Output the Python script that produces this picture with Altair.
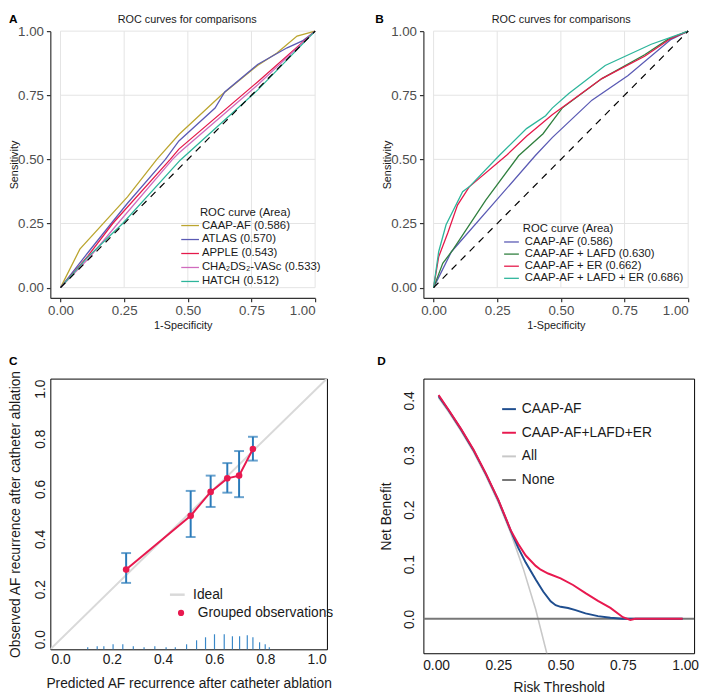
import altair as alt
import pandas as pd

FONT = "Liberation Sans"

# ---------------- text ----------------
panel_letters = ["A", "B", "C", "D"]
roc_title = "ROC curves for comparisons"
roc_legend_title = "ROC curve (Area)"
roc_ticks = [0.0, 0.25, 0.5, 0.75, 1.0]
diag_xy = [0.0, 1.0]

# ---------------- panel A ----------------
a_names = ["CAAP-AF (0.586)", "ATLAS (0.570)", "APPLE (0.543)", "CHA₂DS₂-VASc (0.533)", "HATCH (0.512)"]
a_colors = ["#BBA52F", "#5A5AB4", "#E5194A", "#D06BBE", "#2DB59B"]
a_caap_x = [0, 0.076, 0.263, 0.379, 0.465, 0.632, 0.774, 0.85, 0.929, 1.0]
a_caap_y = [0, 0.150, 0.354, 0.501, 0.597, 0.751, 0.866, 0.915, 0.981, 1.0]
a_atlas_x = [0, 0.108, 0.199, 0.263, 0.412, 0.465, 0.607, 0.645, 0.774, 0.89, 0.95, 1.0]
a_atlas_y = [0, 0.137, 0.250, 0.329, 0.500, 0.572, 0.700, 0.763, 0.870, 0.935, 0.962, 1.0]
a_apple_x = [0, 0.108, 0.205, 0.431, 0.465, 0.774, 1.0]
a_apple_y = [0, 0.124, 0.250, 0.500, 0.540, 0.802, 1.0]
a_cha_x = [0, 0.108, 0.225, 0.440, 0.465, 0.774, 1.0]
a_cha_y = [0, 0.111, 0.250, 0.500, 0.525, 0.790, 1.0]
a_hatch_x = [0, 0.108, 0.244, 0.470, 0.774, 1.0]
a_hatch_y = [0, 0.120, 0.250, 0.497, 0.770, 1.0]

# ---------------- panel B ----------------
b_names = ["CAAP-AF (0.586)", "CAAP-AF + LAFD (0.630)", "CAAP-AF + ER (0.662)", "CAAP-AF + LAFD + ER (0.686)"]
b_colors = ["#5A5AB4", "#2F7F3E", "#E5194A", "#2DB59B"]
b_caap_x = [0, 0.07, 0.399, 0.466, 0.622, 0.764, 0.933, 1.0]
b_caap_y = [0, 0.14, 0.514, 0.585, 0.731, 0.827, 0.968, 1.0]
b_lafd_x = [0, 0.036, 0.075, 0.205, 0.334, 0.43, 0.466, 0.505, 0.661, 0.829, 0.92, 1.0]
b_lafd_y = [0, 0.095, 0.146, 0.341, 0.514, 0.600, 0.648, 0.700, 0.815, 0.908, 0.968, 1.0]
b_er_x = [0, 0.02, 0.056, 0.094, 0.14, 0.289, 0.365, 0.466, 0.661, 0.829, 0.933, 1.0]
b_er_y = [0, 0.12, 0.214, 0.322, 0.393, 0.518, 0.590, 0.674, 0.815, 0.902, 0.972, 1.0]
b_both_x = [0, 0.02, 0.049, 0.114, 0.14, 0.257, 0.365, 0.44, 0.466, 0.531, 0.674, 0.855, 1.0]
b_both_y = [0, 0.14, 0.245, 0.374, 0.393, 0.514, 0.620, 0.670, 0.700, 0.757, 0.866, 0.949, 1.0]

# ---------------- panel C ----------------
c_x_title = "Predicted AF recurrence after catheter ablation"
c_y_title = "Observed AF recurrence after catheter ablation"
c_ticks = [0.0, 0.2, 0.4, 0.6, 0.8, 1.0]
c_labels = ["Ideal", "Grouped observations"]
ideal_xy = [-0.1, 1.1]
cal_x = [0.256, 0.508, 0.586, 0.651, 0.697, 0.751]
cal_y = [0.278, 0.493, 0.588, 0.642, 0.653, 0.759]
cal_lo = [0.225, 0.408, 0.528, 0.585, 0.567, 0.713]
cal_hi = [0.344, 0.592, 0.653, 0.703, 0.751, 0.808]
rug_x = [0.106, 0.143, 0.169, 0.205, 0.243, 0.284, 0.326, 0.368, 0.412, 0.448, 0.492,
         0.531, 0.566, 0.601, 0.639, 0.671, 0.699, 0.729, 0.751, 0.777, 0.799, 0.815]
rug_top = [-0.032, -0.028, -0.028, -0.020, -0.020, -0.028, -0.032, -0.028, -0.032, -0.032, -0.020,
           -0.004, 0.008, 0.020, 0.020, 0.012, 0.012, 0.016, 0.008, -0.012, -0.020, -0.032]

# ---------------- panel D ----------------
d_x_title = "Risk Threshold"
d_y_title = "Net Benefit"
d_yticks = [0.0, 0.1, 0.2, 0.3, 0.4]
d_names = ["CAAP-AF", "CAAP-AF+LAFD+ER", "All", "None"]
d_colors = ["#1F4E8F", "#E8194F", "#C8C8C8", "#777777"]
d_all_x = [0.01, 0.05, 0.10, 0.15, 0.20, 0.25, 0.30, 0.35, 0.40, 0.45]
d_all_y = [0.405, 0.379, 0.344, 0.306, 0.262, 0.213, 0.157, 0.092, 0.017, -0.073]
d_none_x = [-0.06, 1.04]
d_none_y = [0.0, 0.0]
d_caap_x = [0.01, 0.05, 0.10, 0.15, 0.20, 0.25, 0.30, 0.33, 0.36, 0.40, 0.43, 0.46, 0.48, 0.50,
            0.53, 0.56, 0.60, 0.65, 0.70, 0.75, 0.80, 0.90, 0.99]
d_caap_y = [0.408, 0.382, 0.347, 0.309, 0.265, 0.217, 0.161, 0.130, 0.103, 0.072, 0.050, 0.032,
            0.025, 0.022, 0.020, 0.016, 0.010, 0.005, 0.002, 0.000, 0.000, 0.000, 0.000]
d_comb_x = [0.01, 0.05, 0.10, 0.15, 0.20, 0.25, 0.30, 0.33, 0.36, 0.40, 0.42, 0.45, 0.50, 0.55,
            0.60, 0.65, 0.70, 0.75, 0.78, 0.80, 0.90, 0.99]
d_comb_y = [0.410, 0.383, 0.348, 0.310, 0.266, 0.218, 0.162, 0.137, 0.116, 0.097, 0.090, 0.083,
            0.074, 0.062, 0.047, 0.033, 0.020, 0.003, -0.002, 0.000, 0.000, 0.000]

RED = "#E8194F"
BLUE = "#2A7AB9"

# ---------------- helpers ----------------
def series_frame(names, xs, ys):
    rows = []
    for n, xv, yv in zip(names, xs, ys):
        for i, (a, b) in enumerate(zip(xv, yv)):
            rows.append({"x": a, "y": b, "s": n, "i": i})
    return pd.DataFrame(rows)


def text_layer(txt, x, y, size, weight="normal", align="left", baseline="top", color="#1A1A1A"):
    return alt.Chart(pd.DataFrame({"t": [txt]})).mark_text(
        align=align, baseline=baseline, fontSize=size, fontWeight=weight, font=FONT, color=color
    ).encode(x=alt.value(x), y=alt.value(y), text="t:N")


W_AB, H_AB = 269, 271
dom_roc = [-0.04, 1.0]


def roc_panel(letter, letter_x, title_x, df, names, colors, leg):
    ax_x = alt.Axis(values=roc_ticks, format=".2f", title="1-Specificity", grid=False,
                    domainColor="#333333", domainWidth=1.2, tickColor="#333333", tickWidth=1.2,
                    tickSize=4, labelPadding=2, labelFontSize=13.5, labelColor="#4D4D4D",
                    labelFont=FONT, titleFont=FONT, titleFontSize=11, titleFontWeight="normal",
                    titleColor="#1A1A1A", titleY=28, titleBaseline="middle", labelOverlap=False)
    ax_y = alt.Axis(values=roc_ticks, format=".2f", title="Sensitivity", grid=False,
                    domainColor="#333333", domainWidth=1.2, tickColor="#333333", tickWidth=1.2,
                    tickSize=4, labelPadding=3, labelFontSize=13.5, labelColor="#4D4D4D",
                    labelFont=FONT, titleFont=FONT, titleFontSize=11, titleFontWeight="normal",
                    titleColor="#1A1A1A", titleX=-36, titleBaseline="middle", labelOverlap=False)
    sx = alt.Scale(domain=dom_roc, nice=False, zero=False)
    sy = alt.Scale(domain=dom_roc, nice=False, zero=False)
    X = lambda: alt.X("x:Q", scale=sx, axis=ax_x)
    Y = lambda: alt.Y("y:Q", scale=sy, axis=ax_y)

    gv = pd.DataFrame({"x": roc_ticks, "y": roc_ticks[0], "y2": roc_ticks[-1]})
    gh = pd.DataFrame({"y": roc_ticks, "x": roc_ticks[0], "x2": roc_ticks[-1]})
    grid_v = alt.Chart(gv).mark_rule(color="#E3E3E3", strokeWidth=1).encode(x=X(), y=Y(), y2="y2:Q")
    grid_h = alt.Chart(gh).mark_rule(color="#E3E3E3", strokeWidth=1).encode(y=Y(), x=X(), x2="x2:Q")

    lines = alt.Chart(df).mark_line(strokeWidth=1.3).encode(
        x=X(), y=Y(), order="i:Q",
        color=alt.Color("s:N", scale=alt.Scale(domain=names, range=colors),
                        legend=alt.Legend(orient="none", legendX=leg["x"], legendY=leg["y"], title=None,
                                          symbolType="M-1,0H2", symbolSize=leg["size"],
                                          symbolStrokeWidth=1.3, labelFontSize=11.5, labelFont=FONT,
                                          labelColor="#1A1A1A", labelOffset=leg["off"],
                                          rowPadding=leg["pad"], padding=0, labelLimit=300)))
    diag = alt.Chart(pd.DataFrame({"x": diag_xy, "y": diag_xy})).mark_line(
        color="black", strokeDash=[7, 6], strokeWidth=1.2).encode(x=X(), y=Y())

    return alt.layer(
        grid_v, grid_h, lines, diag,
        text_layer(letter, letter_x, -17, 12, weight="bold", color="black"),
        text_layer(roc_title, title_x, -17, 11, align="center"),
        text_layer(roc_legend_title, leg["tx"], leg["ty"], 11.5, baseline="middle"),
    ).properties(width=W_AB, height=H_AB, view=alt.ViewBackground(strokeOpacity=0))


pA = roc_panel("A", -42, 139,
               series_frame(a_names, [a_caap_x, a_atlas_x, a_apple_x, a_cha_x, a_hatch_x],
                            [a_caap_y, a_atlas_y, a_apple_y, a_cha_y, a_hatch_y]),
               a_names, a_colors,
               {"x": 132, "y": 190.5, "size": 144, "off": 8, "pad": 1.2, "tx": 152, "ty": 185})
pB = roc_panel("B", -49, 140,
               series_frame(b_names, [b_caap_x, b_lafd_x, b_er_x, b_both_x],
                            [b_caap_y, b_lafd_y, b_er_y, b_both_y]),
               b_names, b_colors,
               {"x": 81, "y": 208.2, "size": 100, "off": 10, "pad": 0.3, "tx": 101, "ty": 200.7})

# ---------------- panel C ----------------
W_C, H_C = 281, 275
dom_c = [-0.04, 1.04]
cax_x = alt.Axis(values=c_ticks, format=".1f", title=c_x_title, grid=False, domain=False, ticks=False,
                 tickSize=0, labelPadding=3, labelFontSize=14, labelColor="#1A1A1A", labelFont=FONT,
                 titleFont=FONT, titleFontSize=14, titleFontWeight="normal", titleColor="#1A1A1A",
                 titleY=35, titleBaseline="middle", labelOverlap=False)
cax_y = alt.Axis(values=c_ticks, format=".1f", title=c_y_title, grid=False, domain=False, ticks=False,
                 tickSize=0, labelPadding=3, labelFontSize=14, labelColor="#1A1A1A", labelFont=FONT,
                 labelAngle=270, labelAlign="center", labelBaseline="bottom",
                 titleFont=FONT, titleFontSize=14, titleFontWeight="normal", titleColor="#1A1A1A",
                 titleX=-35, titleBaseline="middle", labelOverlap=False)
csx = alt.Scale(domain=dom_c, nice=False, zero=False)
csy = alt.Scale(domain=dom_c, nice=False, zero=False)
CX = lambda: alt.X("x:Q", scale=csx, axis=cax_x)
CY = lambda: alt.Y("y:Q", scale=csy, axis=cax_y)

ideal = alt.Chart(pd.DataFrame({"x": ideal_xy, "y": ideal_xy, "lab": c_labels[0]})).mark_line(
    strokeWidth=2, clip=True).encode(
    x=CX(), y=CY(),
    stroke=alt.Stroke("lab:N", scale=alt.Scale(domain=[c_labels[0]], range=["#D9D9D9"]),
                      legend=alt.Legend(orient="none", legendX=120, legendY=210.5, title=None,
                                        symbolType="stroke", symbolSize=225, symbolStrokeWidth=2.5,
                                        labelFontSize=14, labelFont=FONT, labelColor="#1A1A1A",
                                        labelOffset=7, padding=0)))
rug = alt.Chart(pd.DataFrame({"x": rug_x, "y": rug_top})).mark_rule(color="#3A88C8", strokeWidth=1.2).encode(
    x=CX(), y=CY(), y2=alt.value(H_C))
err = alt.Chart(pd.DataFrame({"x": cal_x, "y": cal_lo, "y2": cal_hi})).mark_rule(
    color=BLUE, strokeWidth=2).encode(x=CX(), y=CY(), y2="y2:Q")
caps = alt.Chart(pd.DataFrame({"x": cal_x + cal_x, "y": cal_lo + cal_hi})).mark_tick(
    orient="horizontal", size=10, thickness=2, color=BLUE).encode(x=CX(), y=CY())
cline = alt.Chart(pd.DataFrame({"x": cal_x, "y": cal_y})).mark_line(color=RED, strokeWidth=2).encode(
    x=CX(), y=CY())
cpts = alt.Chart(pd.DataFrame({"x": cal_x, "y": cal_y, "lab": c_labels[1]})).mark_circle(
    size=45, opacity=1).encode(
    x=CX(), y=CY(),
    fill=alt.Fill("lab:N", scale=alt.Scale(domain=[c_labels[1]], range=[RED]),
                  legend=alt.Legend(orient="none", legendX=125.8, legendY=231, title=None,
                                    symbolType="circle", symbolSize=40, symbolStrokeWidth=0,
                                    labelFontSize=14, labelFont=FONT, labelColor="#1A1A1A",
                                    labelOffset=10, padding=0)))
pC = alt.layer(ideal, rug, err, caps, cline, cpts,
               text_layer(panel_letters[2], -42, -23, 12, weight="bold", color="black")).properties(
    width=W_C, height=H_C, view=alt.ViewBackground(stroke="black", strokeWidth=1))

# ---------------- panel D ----------------
W_D, H_D = 275, 279
dax_x = alt.Axis(values=roc_ticks, format=".2f", title=d_x_title, grid=False, domain=False, ticks=False,
                 tickSize=0, labelPadding=6, labelFontSize=14, labelColor="#1A1A1A", labelFont=FONT,
                 titleFont=FONT, titleFontSize=14, titleFontWeight="normal", titleColor="#1A1A1A",
                 titleY=35, titleBaseline="middle", labelOverlap=False)
dax_y = alt.Axis(values=d_yticks, format=".1f", title=d_y_title, grid=False, domain=False, ticks=False,
                 tickSize=0, labelPadding=7, labelFontSize=14, labelColor="#1A1A1A", labelFont=FONT,
                 labelAngle=270, labelAlign="center", labelBaseline="bottom",
                 titleFont=FONT, titleFontSize=14, titleFontWeight="normal", titleColor="#1A1A1A",
                 titleX=-37, titleBaseline="middle", labelOverlap=False)
dsx = alt.Scale(domain=[-0.051, 1.036], nice=False, zero=False)
dsy = alt.Scale(domain=[-0.063, 0.44], nice=False, zero=False)
d_legend = alt.Legend(orient="none", legendX=79, legendY=23, title=None, symbolType="stroke",
                      symbolSize=196, symbolStrokeWidth=2, labelFontSize=14, labelFont=FONT,
                      labelColor="#1A1A1A", labelOffset=5, rowPadding=9, padding=0)


def d_line(xs, ys, name, width):
    df = pd.DataFrame({"x": xs, "y": ys, "s": name})
    return alt.Chart(df).mark_line(strokeWidth=width, clip=True).encode(
        x=alt.X("x:Q", scale=dsx, axis=dax_x), y=alt.Y("y:Q", scale=dsy, axis=dax_y),
        color=alt.Color("s:N", scale=alt.Scale(domain=d_names, range=d_colors), legend=d_legend))


pD = alt.layer(
    d_line(d_all_x, d_all_y, d_names[2], 1.6),
    d_line(d_none_x, d_none_y, d_names[3], 2),
    d_line(d_caap_x, d_caap_y, d_names[0], 2),
    d_line(d_comb_x, d_comb_y, d_names[1], 2),
    text_layer(panel_letters[3], -47, -23, 12, weight="bold", color="black"),
).properties(width=W_D, height=H_D, view=alt.ViewBackground(stroke="black", strokeWidth=1))

chart = alt.concat(pA, pB, pC, pD, columns=2, spacing={"row": 82, "column": 98}, bounds="flush",
                   padding=0).resolve_scale(
    color="independent", fill="independent", stroke="independent"
).configure(font=FONT)

chart.save("out.html", embed_options={"renderer": "svg", "actions": False})
